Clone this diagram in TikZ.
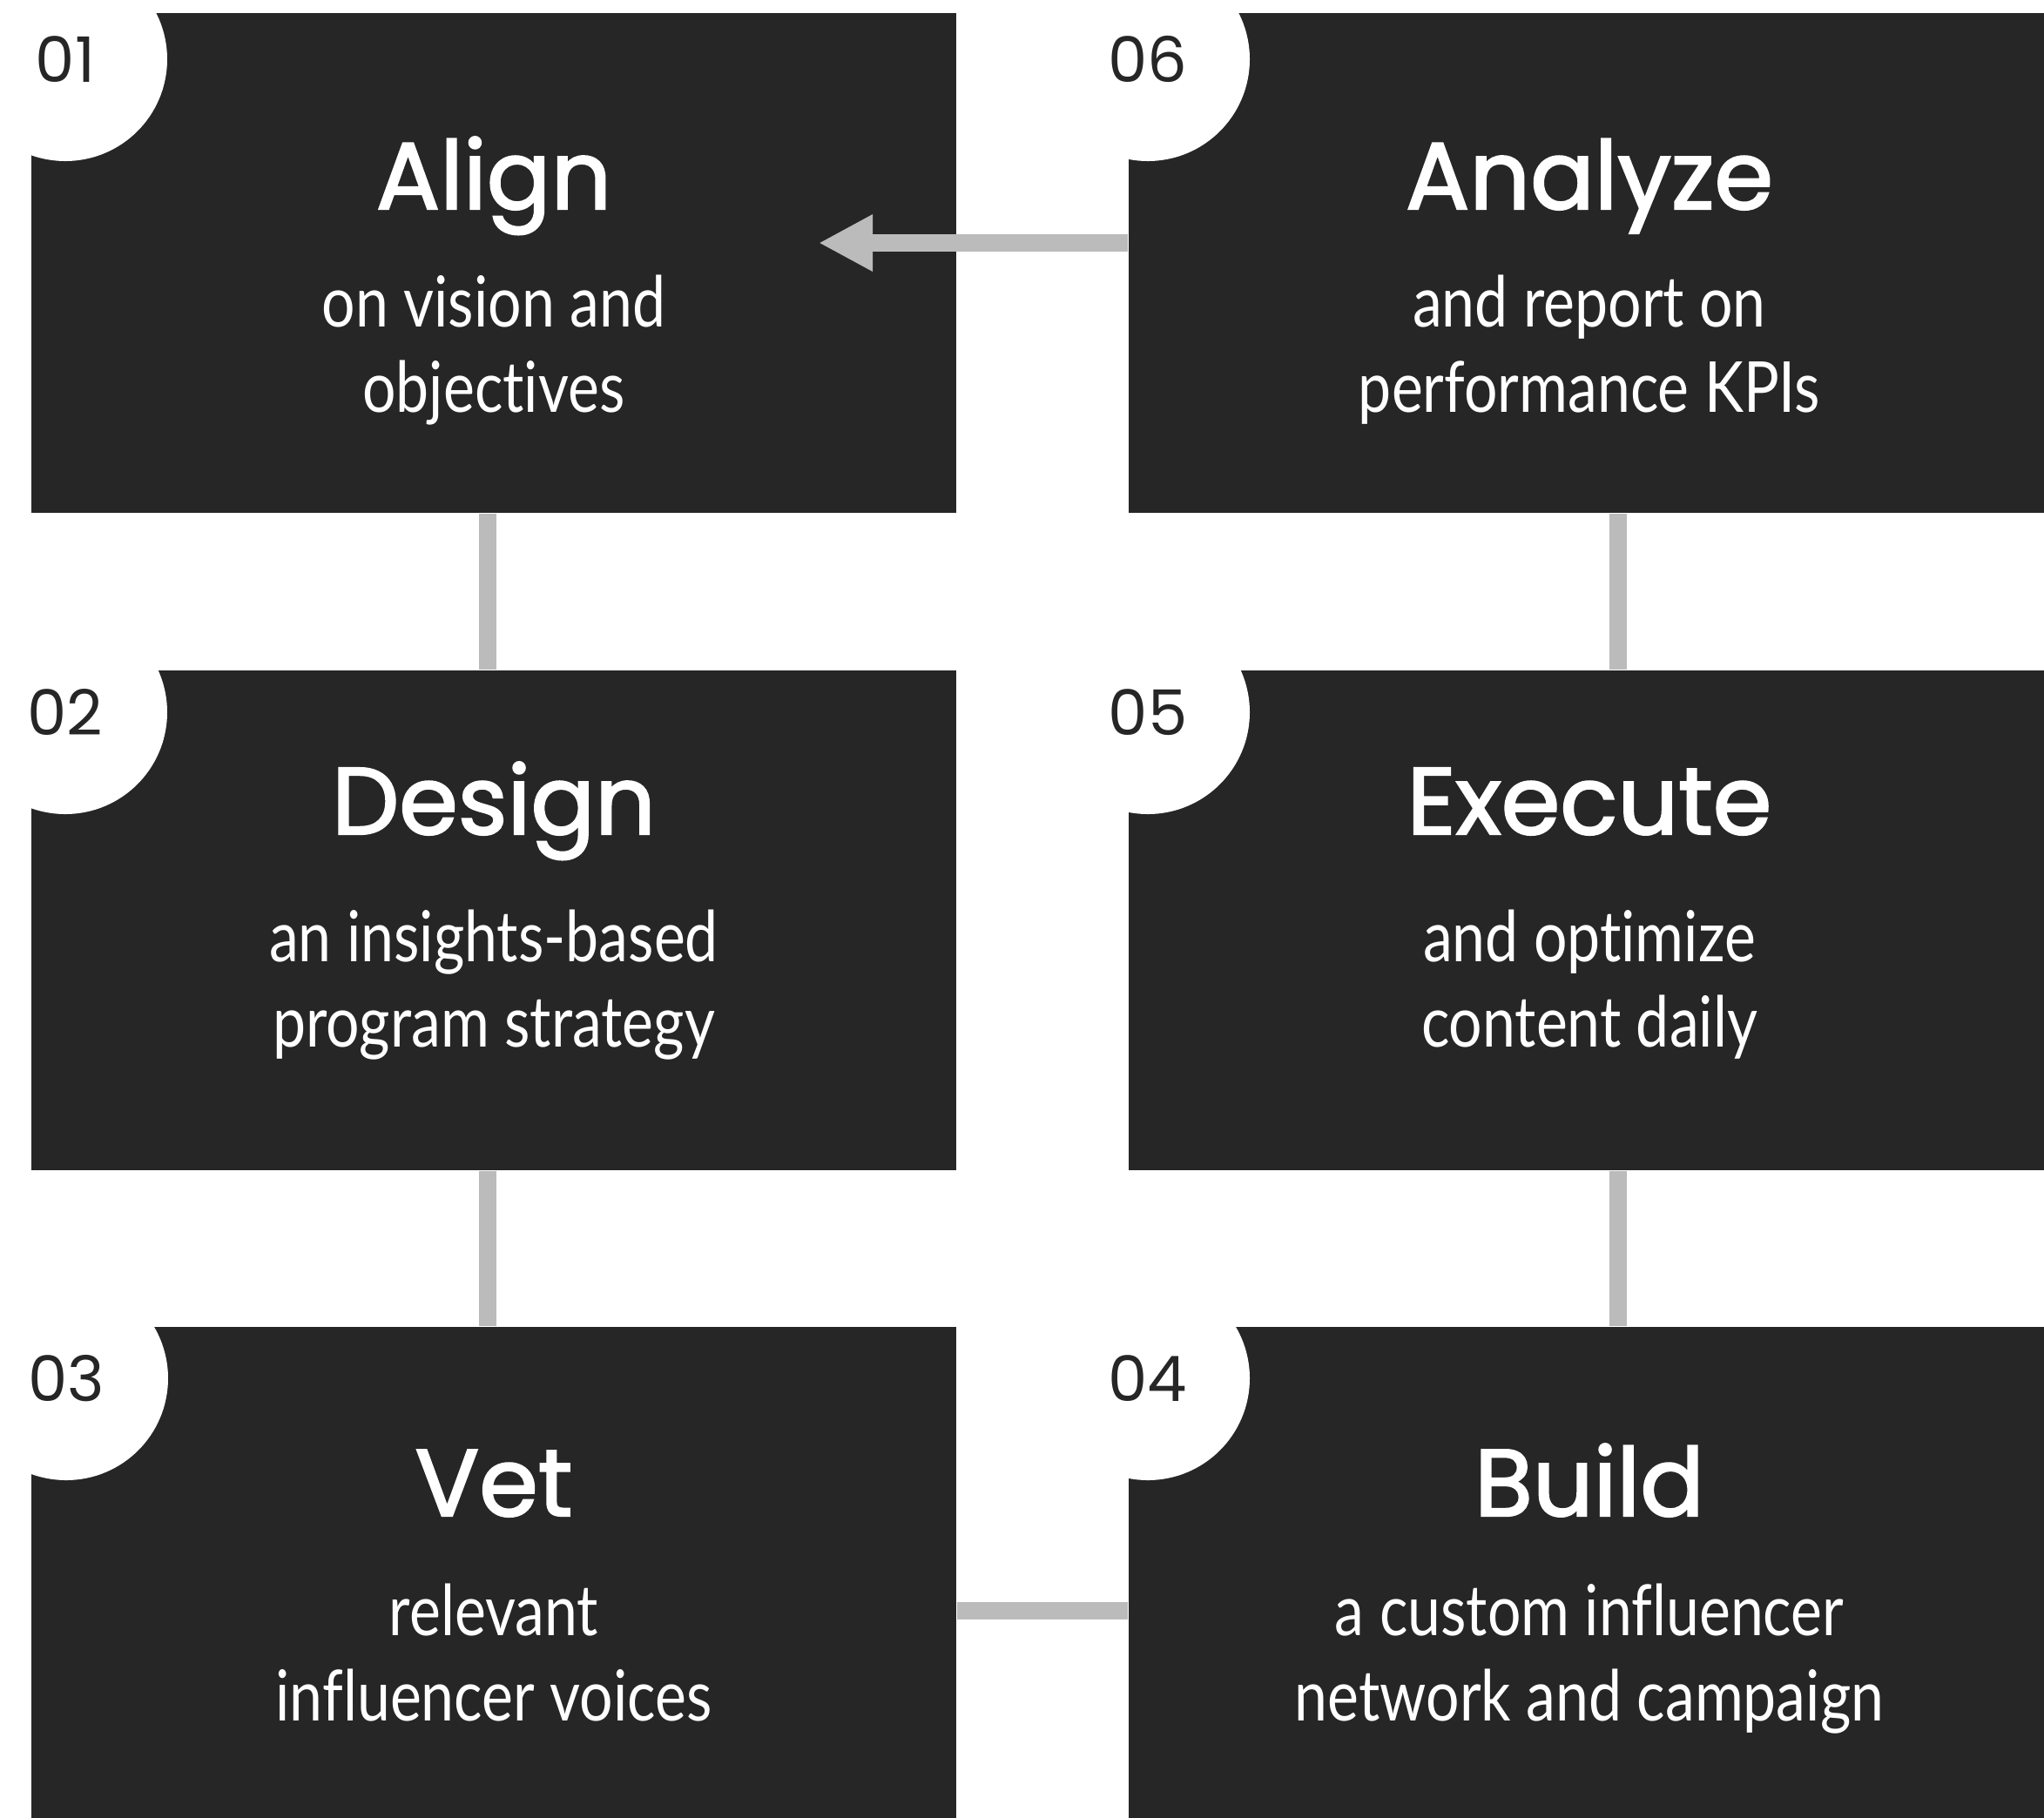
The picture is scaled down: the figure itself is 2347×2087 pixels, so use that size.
\documentclass[tikz,border=0pt]{standalone}
\usepackage{fontspec}
\setmainfont{Poppins}
\newfontfamily\titlefont[FakeBold=2]{Poppins}
\newfontfamily\bodyfont[FakeStretch=0.84, Ligatures=CommonOff]{Lato}
\usetikzlibrary{arrows.meta,positioning}
\definecolor{boxcolor}{RGB}{38,38,38}
\definecolor{linkcolor}{RGB}{187,187,187}

\tikzset{
  stepbox/.style={rectangle, fill=boxcolor, inner sep=0pt, minimum width=10.62cm, minimum height=5.74cm},
  badge/.style={circle, fill=white, inner sep=0pt, minimum size=2.34cm, text=boxcolor, font=\fontsize{20.5}{24}\selectfont},
  steptitle/.style={text=white, anchor=base, font=\titlefont\fontsize{31}{36}\selectfont},
  blurb/.style={text=white, anchor=base, align=center, font=\bodyfont\fontsize{23}{27.8}\selectfont},
  link/.style={draw=linkcolor, line width=2mm},
}

\begin{document}
\begin{tikzpicture}[x=0.1mm, y=-0.1mm]
  \clip (0,0) rectangle (2347,2087);
  \fill[white] (0,0) rectangle (2347,2087);

  % the six step boxes, down the left column and back up the right one
  \node[stepbox] (b1) at (567,302) {};
  \node[stepbox] (b2) at (567,1057) {};
  \node[stepbox] (b3) at (567,1811) {};
  \node[stepbox] (b4) at (1827,1811) {};
  \node[stepbox] (b5) at (1827,1057) {};
  \node[stepbox] (b6) at (1827,302) {};

  % numbered badges cut into the top left corners
  \node[badge] (n1) at (75,68) {01};
  \node[badge] (n2) at (75,818) {02};
  \node[badge] (n3) at (76,1583) {03};
  \node[badge] (n4) at (1318,1583) {04};
  \node[badge] (n5) at (1318,818) {05};
  \node[badge] (n6) at (1318,68) {06};

  % titles
  \node[steptitle] (t1) at (567,240) {Align};
  \node[steptitle] (t2) at (567,958) {Design};
  \node[steptitle] (t3) at (567,1741) {Vet};
  \node[steptitle] (t4) at (1825,1741) {Build};
  \node[steptitle] (t5) at (1825,958) {Execute};
  \node[steptitle] (t6) at (1825,240) {Analyze};

  % descriptions (base is the last line)
  \node[blurb] (d1) at (567,473) {on vision and\\objectives};
  \node[blurb] (d2) at (567,1202) {an insights-based\\program strategy};
  \node[blurb] (d3) at (567,1976) {relevant\\influencer voices};
  \node[blurb] (d4) at (1825,1976) {a custom influencer\\network and campaign};
  \node[blurb] (d5) at (1825,1202) {and optimize\\content daily};
  \node[blurb] (d6) at (1825,473) {and report on\\performance KPIs};

  % links between the steps
  \draw[link] ([xshift=-0.7mm]b1.south) -- ([xshift=-0.7mm]b2.north);
  \draw[link] ([xshift=-0.7mm]b2.south) -- ([xshift=-0.7mm]b3.north);
  \draw[link] ([yshift=-3.85mm]b3.east) -- ([yshift=-3.85mm]b4.west);
  \draw[link] ([xshift=3.1mm]b4.north) -- ([xshift=3.1mm]b5.south);
  \draw[link] ([xshift=3.1mm]b5.north) -- ([xshift=3.1mm]b6.south);

  % back to the start
  \coordinate (tip) at (940,279);
  \draw[link, -{Triangle[length=6.2mm, width=6.1mm]}] (b6.west |- tip) -- (tip);
\end{tikzpicture}
\end{document}
